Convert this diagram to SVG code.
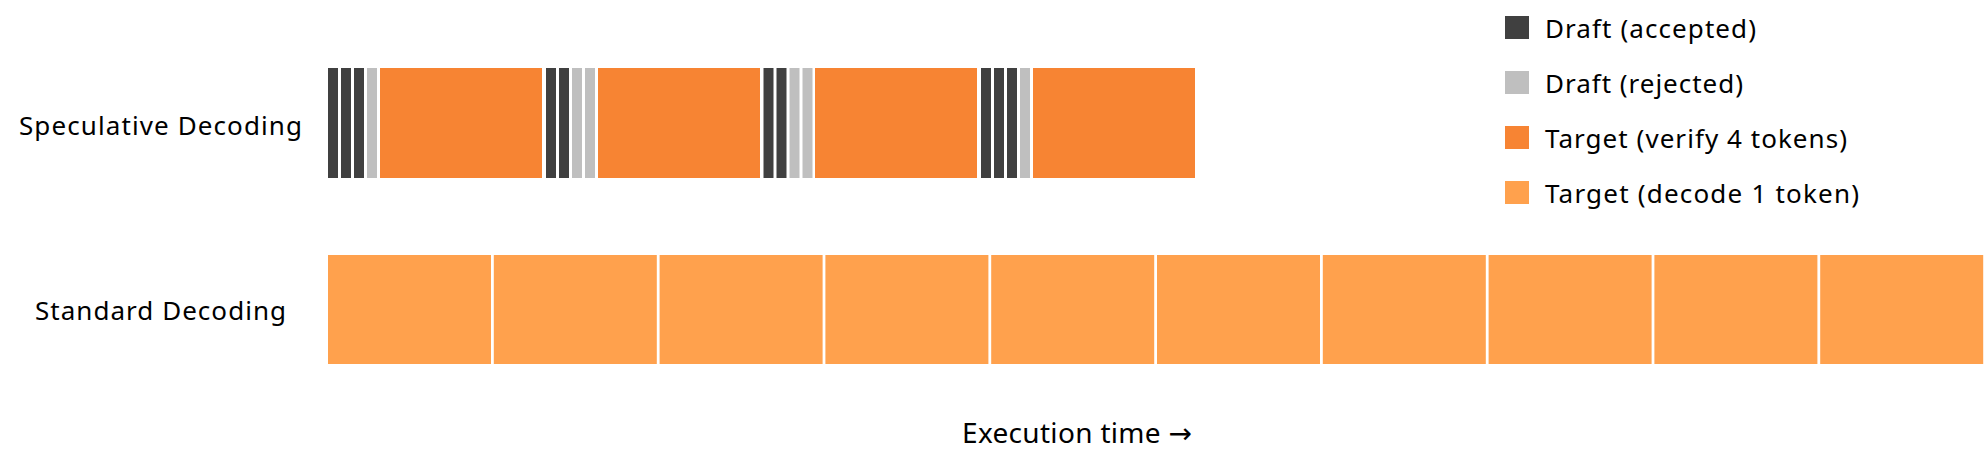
<svg xmlns="http://www.w3.org/2000/svg" width="1985" height="467" viewBox="0 0 1985 467">
<style>
text{font-family:"Noto Sans","Open Sans","DejaVu Sans",sans-serif;fill:#000;}
.lbl{font-size:26px;}
.axis{font-size:28px;}
.acc{fill:#404040;}
.rej{fill:#bfbfbf;}
.ver{fill:#f78433;}
.dec{fill:#ffa14d;}
</style>
<rect width="1985" height="467" fill="#fff"/>
<g id="row-labels">
<text class="lbl" x="19" y="135" textLength="283" lengthAdjust="spacing">Speculative Decoding</text>
<text class="lbl" x="35" y="320" textLength="251" lengthAdjust="spacing">Standard Decoding</text>
</g>
<g id="speculative">
<g id="spec-1">
<rect class="acc" x="328" y="68" width="10" height="110"/>
<rect class="acc" x="341" y="68" width="10" height="110"/>
<rect class="acc" x="354" y="68" width="10" height="110"/>
<rect class="rej" x="367" y="68" width="10" height="110"/>
<rect class="ver" x="380" y="68" width="162" height="110"/>
</g>
<g id="spec-2">
<rect class="acc" x="546" y="68" width="10" height="110"/>
<rect class="acc" x="559" y="68" width="10" height="110"/>
<rect class="rej" x="572" y="68" width="10" height="110"/>
<rect class="rej" x="585" y="68" width="10" height="110"/>
<rect class="ver" x="598" y="68" width="162" height="110"/>
</g>
<g id="spec-3">
<rect class="acc" x="763.5" y="68" width="10" height="110"/>
<rect class="acc" x="776.5" y="68" width="10" height="110"/>
<rect class="rej" x="789.5" y="68" width="10" height="110"/>
<rect class="rej" x="802.5" y="68" width="10" height="110"/>
<rect class="ver" x="815" y="68" width="162" height="110"/>
</g>
<g id="spec-4">
<rect class="acc" x="981" y="68" width="10" height="110"/>
<rect class="acc" x="994" y="68" width="10" height="110"/>
<rect class="acc" x="1007" y="68" width="10" height="110"/>
<rect class="rej" x="1020" y="68" width="10" height="110"/>
<rect class="ver" x="1033" y="68" width="162" height="110"/>
</g>
</g>
<g id="standard">
<rect id="std-1" class="dec" x="328" y="255" width="163" height="109"/>
<rect id="std-2" class="dec" x="493.8" y="255" width="163" height="109"/>
<rect id="std-3" class="dec" x="659.6" y="255" width="163" height="109"/>
<rect id="std-4" class="dec" x="825.4" y="255" width="163" height="109"/>
<rect id="std-5" class="dec" x="991.2" y="255" width="163" height="109"/>
<rect id="std-6" class="dec" x="1157" y="255" width="163" height="109"/>
<rect id="std-7" class="dec" x="1322.8" y="255" width="163" height="109"/>
<rect id="std-8" class="dec" x="1488.6" y="255" width="163" height="109"/>
<rect id="std-9" class="dec" x="1654.4" y="255" width="163" height="109"/>
<rect id="std-10" class="dec" x="1820.2" y="255" width="163" height="109"/>
</g>
<g id="legend">
<g id="leg-acc"><rect class="acc" x="1505" y="16" width="24" height="23"/><text class="lbl" x="1545" y="38" textLength="211" lengthAdjust="spacing">Draft (accepted)</text></g>
<g id="leg-rej"><rect class="rej" x="1505" y="71" width="24" height="23"/><text class="lbl" x="1545" y="93" textLength="198" lengthAdjust="spacing">Draft (rejected)</text></g>
<g id="leg-ver"><rect class="ver" x="1505" y="126" width="24" height="23"/><text class="lbl" x="1545" y="148" textLength="302" lengthAdjust="spacing">Target (verify 4 tokens)</text></g>
<g id="leg-dec"><rect class="dec" x="1505" y="181" width="24" height="23"/><text class="lbl" x="1545" y="203" textLength="314" lengthAdjust="spacing">Target (decode 1 token)</text></g>
</g>
<g id="connectors"></g>
<g id="axis-label">
<text class="axis" x="962" y="443" textLength="230" lengthAdjust="spacing">Execution time →</text>
</g>
</svg>
